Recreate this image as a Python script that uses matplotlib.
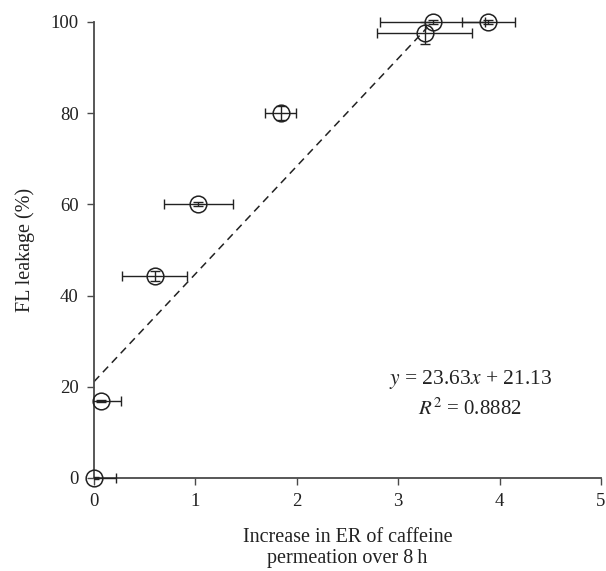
import matplotlib
matplotlib.use("Agg")
import matplotlib.pyplot as plt
from matplotlib.patches import Rectangle
import numpy as np

plt.rcParams["font.family"] = ["Liberation Serif", "DejaVu Serif"]
plt.rcParams["mathtext.fontset"] = "stix"

# Increase in ER of caffeine permeation vs FL leakage
er_increase = [0.00, 0.07, 0.60, 1.03, 1.84, 3.26, 3.34, 3.89]
fl_leakage = [0.0, 16.9, 44.3, 60.1, 80.0, 97.6, 100.0, 100.0]
er_err = [0.22, 0.20, 0.32, 0.34, 0.15, 0.47, 0.52, 0.26]
fl_err = [0.3, 0.3, 1.0, 0.5, 1.5, 2.4, 0.5, 0.5]

slope = 23.63
intercept = 21.13
r_squared = 0.8882
fit_x_end = 3.28

x_ticks = [0, 1, 2, 3, 4, 5]
y_ticks = [0, 20, 40, 60, 80, 100]

fig = plt.figure(figsize=(6.06, 5.71), dpi=100)
ax = fig.add_axes([94 / 606, 93 / 571, (601 - 94) / 606, (478 - 22) / 571])

spine_col = "#4a4a4a"
ink = "#222222"

# error bars (no connecting line); hidden left of the y axis
eb = ax.errorbar(er_increase, fl_leakage, xerr=er_err, yerr=fl_err, fmt="none",
                 ecolor=ink, elinewidth=1.0, capsize=3.5, capthick=1.0,
                 zorder=3)
clip_rect = Rectangle((0, -0.1), 1.2, 1.2, transform=ax.transAxes,
                      fill=False, visible=False)
ax.add_patch(clip_rect)
for art in list(eb.lines[1]) + list(eb.lines[2]):
    art.set_clip_path(clip_rect)

# hollow circle markers
ax.plot(er_increase, fl_leakage, "o", ms=12, mfc="none", mec=ink,
        mew=1.1, clip_on=False, zorder=4)

# linear fit
fx = np.array([0.0, fit_x_end])
ax.plot(fx, slope * fx + intercept, ls=(0, (5, 3.5)), color=ink, lw=1.1,
        zorder=2)

ax.text(0.742, 0.215, r"$y$ = %.2f$x$ + %.2f" % (slope, intercept),
        transform=ax.transAxes, ha="center", va="center", fontsize=15.5,
        color=ink)
ax.text(0.742, 0.152, r"$R^2$ = %.4f" % r_squared,
        transform=ax.transAxes, ha="center", va="center", fontsize=15,
        color=ink)

ax.set_xlim(0, 5)
ax.set_ylim(0, 100)
ax.set_xticks(x_ticks)
ax.set_yticks(y_ticks)
ax.set_xticklabels([str(t) for t in x_ticks])
ax.set_yticklabels([str(t) for t in y_ticks])

for side in ("top", "right"):
    ax.spines[side].set_visible(False)
for side in ("left", "bottom"):
    ax.spines[side].set_color(spine_col)
    ax.spines[side].set_linewidth(1.3)

ax.tick_params(direction="out", length=5, width=1.0, color=spine_col,
               labelsize=13.5, labelcolor=ink, pad=6)

ax.set_xlabel("Increase in ER of caffeine\npermeation over 8\u2009h",
              fontsize=14.5, color=ink, labelpad=13, linespacing=1.15)
ax.set_ylabel("FL leakage (%)", fontsize=14.5, color=ink, labelpad=11)

fig.savefig("out.png", dpi=100)
